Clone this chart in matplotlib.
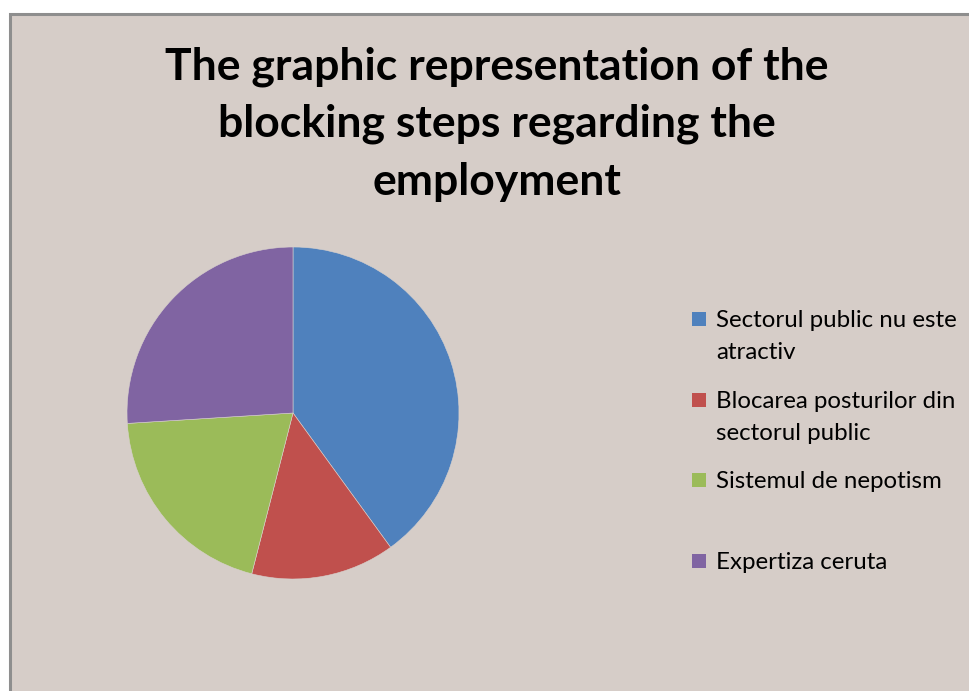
import matplotlib
matplotlib.use("Agg")
import matplotlib.pyplot as plt
from matplotlib.patches import Rectangle

# data
labels = ["Sectorul public nu este\natractiv",
          "Blocarea posturilor din\nsectorul public",
          "Sistemul de nepotism",
          "Expertiza ceruta"]
values = [40, 14, 20, 26]
colors = ["#4f81bd", "#c0504d", "#9bbb59", "#8064a2"]
title = "The graphic representation of the\nblocking steps regarding the\nemployment"

W, H = 970, 691
fig = plt.figure(figsize=(W / 100, H / 100), dpi=100)
fig.patch.set_facecolor("white")

# chart area with grey border, running off the right and bottom edges
bg = Rectangle((10 / W, -0.05), 1.1, 1 - 14 / H + 0.05, transform=fig.transFigure,
               facecolor="#d6cdc8", edgecolor="#8e8e8e", linewidth=2.2, zorder=-5)
fig.patches.append(bg)

fig.text(497 / W, 1 - 124 / H, title, ha="center", va="center", family="Lato",
         fontweight="bold", fontsize=32, linespacing=1.52)

# pie: center (293, 413) px, radius 166 px
cx, cy, r = 293, 413, 166
ax = fig.add_axes([(cx - r) / W, 1 - (cy + r) / H, 2 * r / W, 2 * r / H])
ax.pie(values, colors=colors, startangle=90, counterclock=False, radius=1,
       wedgeprops=dict(linewidth=0.4, edgecolor="#d9d2ce"))
ax.set_xlim(-1, 1)
ax.set_ylim(-1, 1)
ax.set_aspect("auto")
ax.axis("off")

# legend drawn by hand to mirror the fixed row spacing
row_top = [312, 393, 473, 554]
for lab, col, y in zip(labels, colors, row_top):
    fig.patches.append(Rectangle((692 / W, 1 - (y + 14) / H), 14 / W, 14 / H,
                                 transform=fig.transFigure, facecolor=col,
                                 edgecolor="none", zorder=2))
    fig.text(716 / W, 1 - (y - 2) / H, lab, ha="left", va="top", family="Lato",
             fontsize=17.3, linespacing=1.62)

fig.savefig("out.png", dpi=100, facecolor=fig.get_facecolor())
